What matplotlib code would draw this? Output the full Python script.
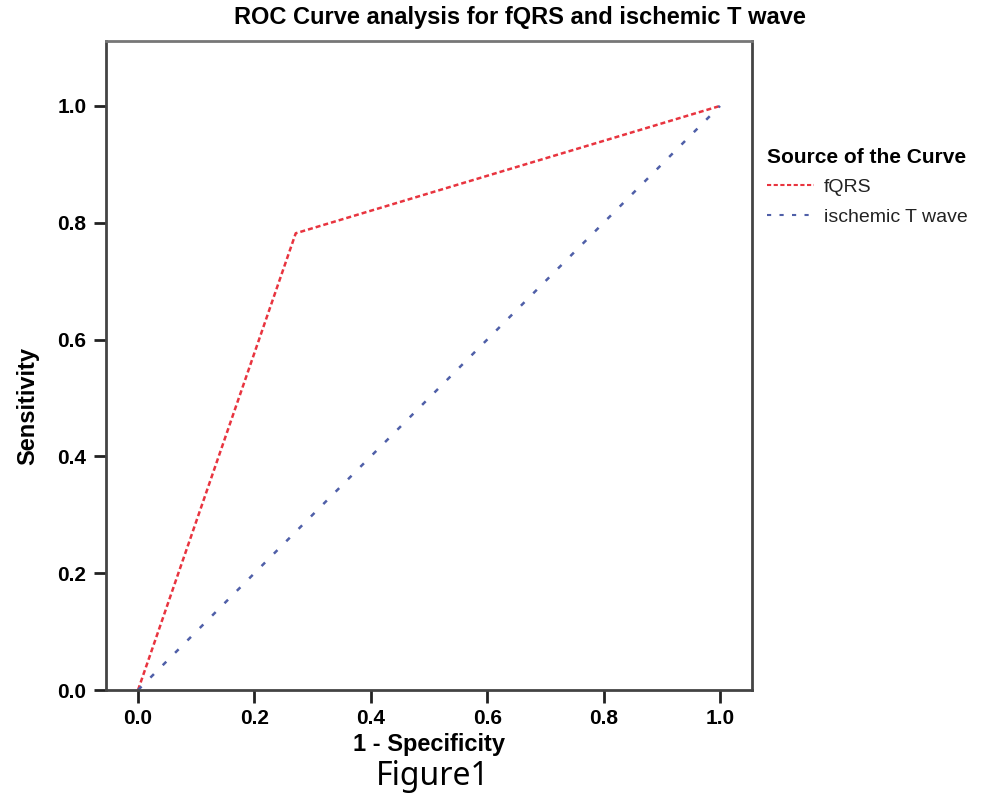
import numpy as np
import matplotlib.pyplot as plt
from matplotlib.lines import Line2D

# ROC points
fqrs_fpr = [0.0, 0.271, 1.0]
fqrs_tpr = [0.0, 0.782, 1.0]
twave_fpr = [0.0, 1.0]
twave_tpr = [0.0, 1.0]
ticks = [0.0, 0.2, 0.4, 0.6, 0.8, 1.0]
tick_labels = ["0.0", "0.2", "0.4", "0.6", "0.8", "1.0"]

red = '#e8343f'
blue = '#4f5fa8'
spine_col = '#444444'

fig = plt.figure(figsize=(10.04, 8.06), dpi=100)
ax = fig.add_axes([0.1056, 0.1439, 0.6434, 0.8051])

ax.plot(fqrs_fpr, fqrs_tpr, color=red, lw=1.8, linestyle=(0, (2, 1.2)))
ax.plot(twave_fpr, twave_tpr, color=blue, lw=1.8, linestyle=(0, (2, 5)))

ax.set_xlim(-0.055, 1.055)
ax.set_ylim(0.0, 1.111)
ax.set_xticks(ticks)
ax.set_xticklabels(tick_labels)
ax.set_yticks(ticks)
ax.set_yticklabels(tick_labels)
for s in ax.spines.values():
    s.set_color(spine_col)
    s.set_linewidth(2)
ax.spines['top'].set_color('#777777')
ax.tick_params(length=9, width=2, color='#222222', labelsize=15, pad=5)
for lab in ax.get_xticklabels() + ax.get_yticklabels():
    lab.set_fontweight('bold')
    lab.set_family('Liberation Sans')

fig.text(0.518, 0.978, "ROC Curve analysis for fQRS and ischemic T wave",
         fontsize=17, fontweight='bold', family='Liberation Sans',
         ha='center', va='center')
ax.set_xlabel("1 - Specificity", fontsize=17, fontweight='bold',
              family='Liberation Sans', labelpad=3)
# y label sits a bit below the axes centre in the original
fig.text(0.028, 0.496, "Sensitivity", fontsize=17, fontweight='bold',
         family='Liberation Sans', rotation=90, ha='center', va='center')

handles = [Line2D([], [], color=red, lw=1.5, linestyle=(0, (2, 1.2))),
           Line2D([], [], color=blue, lw=1.5, linestyle=(0, (2, 4)))]
leg = fig.legend(handles, ["fQRS", "ischemic T wave"], loc='upper left',
                 bbox_to_anchor=(0.747, 0.838), frameon=False,
                 title="Source of the Curve", handlelength=2.4,
                 handletextpad=0.5, labelspacing=0.65, alignment='left',
                 prop={'family': 'Liberation Sans', 'size': 14})
leg.get_title().set_fontweight('bold')
leg.get_title().set_fontsize(15)
leg.get_title().set_family('Liberation Sans')
leg._legend_box.sep = 8
for t in leg.get_texts():
    t.set_color('#222222')

fig.text(0.431, 0.036, "Figure1", fontsize=23, ha='center', va='center',
         family='Noto Sans')

fig.savefig("out.png", dpi=100)
